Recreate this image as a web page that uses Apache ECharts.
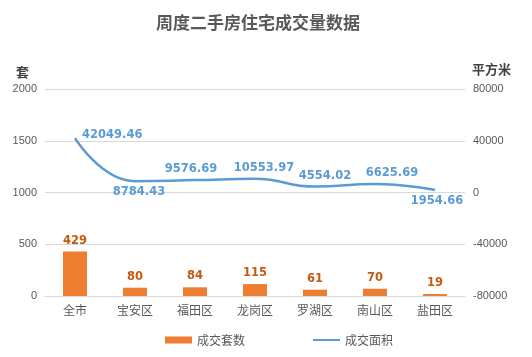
<!DOCTYPE html>
<html><head><meta charset="utf-8">
<script src="https://cdn.jsdelivr.net/npm/echarts@6/dist/echarts.min.js"></script>
<style>html,body{margin:0;padding:0;background:#fff}#c{width:532px;height:357px}</style>
</head><body><div id="c"></div>
<script>
const categories = ['全市','宝安区','福田区','龙岗区','罗湖区','南山区','盐田区'];
const units = [429, 80, 84, 115, 61, 70, 19];
const area = [42049.46, 8784.43, 9576.69, 10553.97, 4554.02, 6625.69, 1954.66];
const areaLabelPos = ['right','bottom','top','top','top','top','bottom'];
const areaLabelOffset = [[2,-3],[4,0],[-4,0],[9,0],[10,0],[17,0],[2,0]];

const chart = echarts.init(document.getElementById('c'));
const font = '"Microsoft YaHei","Noto Sans CJK SC",sans-serif';
const numFont = '"DejaVu Sans",Verdana,sans-serif';
chart.setOption({
  animation: false,
  title: {
    text: '周度二手房住宅成交量数据', left: 253, top: 9, textAlign: 'center',
    textStyle: {fontFamily: '"Noto Sans CJK SC",serif', fontSize: 17, fontWeight: 'bold', color: '#595959'}
  },
  legend: {
    left: 160, top: 329, itemGap: 67, itemWidth: 27, itemHeight: 7,
    textStyle: {fontFamily: font, fontSize: 12, color: '#595959'},
    data: [{name: '成交套数', icon: 'rect'}, {name: '成交面积', itemStyle: {opacity: 0}}]
  },
  grid: {left: 45, right: 67, top: 89, bottom: 61},
  xAxis: {
    type: 'category', data: categories,
    axisLine: {lineStyle: {color: '#d9d9d9'}}, axisTick: {show: false},
    axisLabel: {color: '#595959', fontFamily: font, fontSize: 12, margin: 8}
  },
  yAxis: [{
    type: 'value', min: 0, max: 2000, interval: 500, name: '套',
    nameLocation: 'end', nameGap: 10,
    nameTextStyle: {fontFamily: font, fontSize: 13, fontWeight: 'bold', color: '#404040', align: 'right', padding: [0, 16, 0, 0]},
    axisLabel: {color: '#595959', fontSize: 11, margin: 8, formatter: v => String(v)},
    splitLine: {lineStyle: {color: '#d9d9d9'}}, axisLine: {show: false}, axisTick: {show: false}
  }, {
    type: 'value', min: -80000, max: 80000, interval: 40000, name: '平方米',
    nameGap: 13,
    nameTextStyle: {fontFamily: font, fontSize: 13, fontWeight: 'bold', color: '#404040', align: 'left', padding: [0, 0, 0, 7]},
    axisLabel: {color: '#595959', fontSize: 11, margin: 8, formatter: v => String(v)},
    splitLine: {show: false}, axisLine: {show: false}, axisTick: {show: false}
  }],
  series: [{
    name: '成交套数', type: 'bar', data: units, barWidth: 24,
    itemStyle: {color: '#ED7D31'},
    label: {show: true, position: 'top', color: '#C55A11', fontWeight: 'bold', fontSize: 11.5, fontFamily: numFont}
  }, {
    name: '成交面积', type: 'line', yAxisIndex: 1, smooth: true,
    symbol: 'circle', symbolSize: 0.1, showSymbol: true,
    data: area.map((v, i) => ({value: v, label: {position: areaLabelPos[i], offset: areaLabelOffset[i]}})),
    lineStyle: {color: '#5B9BD5', width: 2.5}, itemStyle: {color: '#5B9BD5'},
    label: {show: true, color: '#5B9BD5', fontWeight: 'bold', fontSize: 11.5, fontFamily: numFont, distance: 5}
  }]
});
</script></body></html>
